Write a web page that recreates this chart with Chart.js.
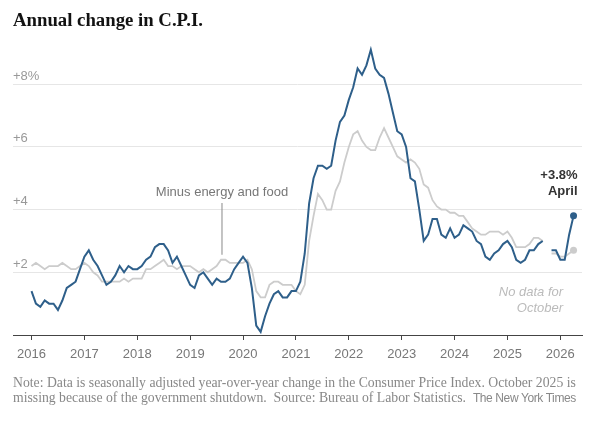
<!DOCTYPE html>
<html>
<head>
<meta charset="utf-8">
<script src="https://cdn.jsdelivr.net/npm/chart.js@4.4.1/dist/chart.umd.min.js"></script>
<style>
  html, body { margin: 0; padding: 0; background: #fff; }
  #wrap { position: relative; width: 600px; height: 424px; overflow: hidden; }
  #chartBox { position: absolute; left: 0; top: 0; width: 600px; height: 424px; }
  #title { position: absolute; left: 13px; top: 10px; font-family: "Liberation Serif", serif; font-weight: bold;
           font-size: 19px; line-height: 19px; color: #121212; white-space: nowrap; }
  .note { position: absolute; left: 13px; font-family: "Liberation Serif", serif; font-size: 13px;
          line-height: 15px; color: #888; white-space: pre; }
  .note .nyt { font-family: "Liberation Sans", sans-serif; font-size: 12px; display: inline-block; }
</style>
</head>
<body>
<div id="wrap">
  <div id="chartBox"><canvas id="cpiChart"></canvas></div>
  <div id="title">Annual change in C.P.I.</div>
  <div class="note" id="note1">Note: Data is seasonally adjusted year-over-year change in the Consumer Price Index. October 2025 is</div>
  <div class="note" id="note2">missing because of the government shutdown.  Source: Bureau of Labor Statistics.  <span class="nyt" id="nyt">The New York Times</span></div>
</div>
<script>
// monthly values, Jan 2016 -> Apr 2026 (Oct 2025 missing)
const startYear = 2016;
const headline = [
  1.4, 1.0, 0.9, 1.1, 1.0, 1.0, 0.8, 1.1, 1.5, 1.6, 1.7, 2.1,
  2.5, 2.7, 2.4, 2.2, 1.9, 1.6, 1.7, 1.9, 2.2, 2.0, 2.2, 2.1,
  2.1, 2.2, 2.4, 2.5, 2.8, 2.9, 2.9, 2.7, 2.3, 2.5, 2.2, 1.9,
  1.6, 1.5, 1.9, 2.0, 1.8, 1.6, 1.8, 1.7, 1.7, 1.8, 2.1, 2.3,
  2.5, 2.3, 1.5, 0.3, 0.1, 0.6, 1.0, 1.3, 1.4, 1.2, 1.2, 1.4,
  1.4, 1.7, 2.6, 4.2, 5.0, 5.4, 5.4, 5.3, 5.4, 6.2, 6.8, 7.0,
  7.5, 7.9, 8.5, 8.3, 8.6, 9.1, 8.5, 8.3, 8.2, 7.7, 7.1, 6.5,
  6.4, 6.0, 5.0, 4.9, 4.0, 3.0, 3.2, 3.7, 3.7, 3.2, 3.1, 3.4,
  3.1, 3.2, 3.5, 3.4, 3.3, 3.0, 2.9, 2.5, 2.4, 2.6, 2.7, 2.9,
  3.0, 2.8, 2.4, 2.3, 2.4, 2.7, 2.7, 2.9, 3.0, null, 2.7, 2.7,
  2.4, 2.4, 3.2, 3.8
];
const core = [
  2.2, 2.3, 2.2, 2.1, 2.2, 2.2, 2.2, 2.3, 2.2, 2.1, 2.1, 2.2,
  2.3, 2.2, 2.0, 1.9, 1.7, 1.7, 1.7, 1.7, 1.7, 1.8, 1.7, 1.8,
  1.8, 1.8, 2.1, 2.1, 2.2, 2.3, 2.4, 2.2, 2.2, 2.1, 2.2, 2.2,
  2.2, 2.1, 2.0, 2.1, 2.0, 2.1, 2.2, 2.4, 2.4, 2.3, 2.3, 2.3,
  2.3, 2.4, 2.1, 1.4, 1.2, 1.2, 1.6, 1.7, 1.7, 1.6, 1.6, 1.6,
  1.4, 1.3, 1.6, 3.0, 3.8, 4.5, 4.3, 4.0, 4.0, 4.6, 4.9, 5.5,
  6.0, 6.4, 6.5, 6.2, 6.0, 5.9, 5.9, 6.3, 6.6, 6.3, 6.0, 5.7,
  5.6, 5.5, 5.6, 5.5, 5.3, 4.8, 4.7, 4.3, 4.1, 4.0, 4.0, 3.9,
  3.9, 3.8, 3.8, 3.6, 3.4, 3.3, 3.2, 3.2, 3.3, 3.3, 3.3, 3.2,
  3.3, 3.1, 2.8, 2.8, 2.8, 2.9, 3.1, 3.1, 3.0, null, 2.6, 2.6,
  2.5, 2.5, 2.6, 2.7
];
const monthNames = ['January', 'February', 'March', 'April', 'May', 'June', 'July',
                    'August', 'September', 'October', 'November', 'December'];
const yearTicks = [2016, 2017, 2018, 2019, 2020, 2021, 2022, 2023, 2024, 2025, 2026];
const yGridValues = [2, 4, 6, 8];
const coreLabel = 'Minus energy and food';
const coreLabelMonth = 43;   // Aug 2019, where the leader line points
const gapLabel = ['No data for', 'October'];

const BLUE = '#2e5f8a';
const GRAY = '#cccccc';

function toPoints(values) {
  return values.map((v, i) => ({ x: startYear + i / 12, y: v }));
}

const lastIdx = headline.length - 1;
const gapIdx = headline.indexOf(null);

// fit the html texts to the widths seen in the reference
function fitWidth(id, target) {
  const el = document.getElementById(id);
  el.style.display = 'inline-block';
  const size = parseFloat(getComputedStyle(el).fontSize);
  const w = el.getBoundingClientRect().width;
  const s = size * target / w;
  el.style.fontSize = s.toFixed(2) + 'px';
  return s;
}
fitWidth('title', 190);
const noteSize = fitWidth('note1', 563);
document.getElementById('note2').style.fontSize = noteSize.toFixed(2) + 'px';
document.getElementById('note1').style.top = '375px';
document.getElementById('note2').style.top = '390px';
// the credit is set in a narrower sans: squeeze it with letter spacing
(function () {
  const nyt = document.getElementById('nyt');
  const w = nyt.getBoundingClientRect().width;
  const n = nyt.textContent.length;
  nyt.style.letterSpacing = ((103 - w) / n).toFixed(2) + 'px';
})();

const annotations = {
  id: 'annotations',
  afterDatasetsDraw(chart) {
    const ctx = chart.ctx;
    const xs = chart.scales.x, ys = chart.scales.y;
    ctx.save();

    // core series label with leader line
    const lx = xs.getPixelForValue(startYear + coreLabelMonth / 12);
    ctx.font = '13px "Liberation Sans", sans-serif';
    ctx.fillStyle = '#777';
    ctx.textAlign = 'center';
    ctx.textBaseline = 'middle';
    ctx.fillText(coreLabel, lx + 1, 192);
    ctx.strokeStyle = '#888';
    ctx.lineWidth = 1;
    ctx.beginPath();
    ctx.moveTo(lx + 1, 203);
    ctx.lineTo(lx + 1, ys.getPixelForValue(core[coreLabelMonth]) - 5);
    ctx.stroke();

    // latest value label
    const px = xs.getPixelForValue(startYear + lastIdx / 12);
    const py = ys.getPixelForValue(headline[lastIdx]);
    ctx.font = 'bold 13px "Liberation Sans", sans-serif';
    ctx.fillStyle = '#333';
    ctx.textAlign = 'right';
    ctx.fillText('+' + headline[lastIdx].toFixed(1) + '%', px + 4, py - 40);
    ctx.fillText(monthNames[lastIdx % 12], px + 4, py - 24);

    // missing month note
    const gx = xs.getPixelForValue(startYear + gapIdx / 12);
    ctx.font = 'italic 13px "Liberation Sans", sans-serif';
    ctx.fillStyle = '#bbb';
    ctx.fillText(gapLabel[0], gx + 16, 292);
    ctx.fillText(gapLabel[1], gx + 16, 308);
    ctx.restore();
  }
};

Chart.defaults.font.family = '"Liberation Sans", sans-serif';
Chart.defaults.font.size = 13;

new Chart(document.getElementById('cpiChart'), {
  type: 'line',
  data: {
    datasets: [
      {
        label: 'All items',
        data: toPoints(headline),
        borderColor: BLUE,
        backgroundColor: BLUE,
        borderWidth: 2,
        pointRadius: ctx => ctx.dataIndex === lastIdx ? 3.5 : 0,
        pointBorderWidth: 0,
        tension: 0,
        spanGaps: false
      },
      {
        label: coreLabel,
        data: toPoints(core),
        borderColor: GRAY,
        backgroundColor: GRAY,
        borderWidth: 1.8,
        pointRadius: ctx => ctx.dataIndex === lastIdx ? 3.5 : 0,
        pointBorderWidth: 0,
        tension: 0,
        spanGaps: false
      }
    ]
  },
  options: {
    responsive: true,
    maintainAspectRatio: false,
    animation: false,
    events: [],
    layout: { padding: { top: 21.5, left: 13, right: 18, bottom: 59 } },
    plugins: { legend: { display: false }, tooltip: { enabled: false } },
    scales: {
      x: {
        type: 'linear',
        min: 2015.65,
        max: 2026.41,
        afterBuildTicks: scale => { scale.ticks = yearTicks.map(v => ({ value: v })); },
        afterFit: scale => { scale.height = 30; },
        grid: { drawOnChartArea: false, drawTicks: true, tickLength: 5, color: '#444' },
        border: { display: true, color: '#444', width: 1 },
        ticks: {
          color: '#777',
          padding: 7,
          maxRotation: 0,
          autoSkip: false,
          callback: v => String(v)
        }
      },
      y: {
        min: 0,
        max: 10,
        afterBuildTicks: scale => { scale.ticks = yGridValues.map(v => ({ value: v })); },
        afterFit: scale => { scale.width = 0; },
        grid: { drawTicks: false, color: '#e6e6e6', lineWidth: 1 },
        border: { display: false },
        ticks: {
          mirror: true,
          padding: 0,
          labelOffset: -8,
          color: '#999',
          callback: v => v === 8 ? '+8%' : '+' + v
        }
      }
    }
  },
  plugins: [annotations]
});
</script>
</body>
</html>
